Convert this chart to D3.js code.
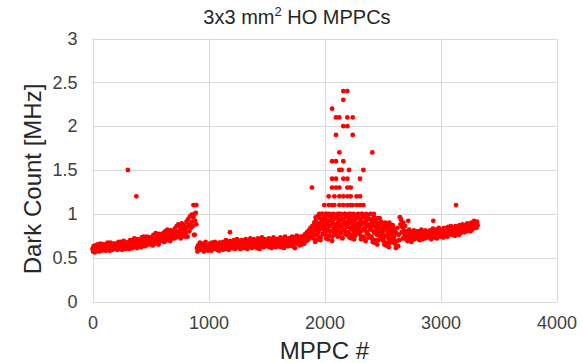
<!DOCTYPE html>
<html>
<head>
<meta charset="utf-8">
<script src="https://cdn.jsdelivr.net/npm/d3@7"></script>
<style>
  html, body { margin: 0; padding: 0; background: #fff; }
  svg { display: block; font-family: "Liberation Sans", Arial, sans-serif; }
</style>
</head>
<body>
<svg id="chart" width="583" height="363"></svg>
<script>
// ---- Data ----
// Main series: dark count [MHz] for MPPC # firstId, firstId+idStep, ...
const firstId = 0;
const idStep = 5;
const darkCount = [
  // 0-95
  0.60,0.57,0.63,0.61,0.56,0.64,0.60,0.62,0.58,0.65,0.61,0.57,0.63,0.60,0.66,0.62,0.58,0.61,0.65,0.60,
  // 100-195
  0.62,0.59,0.65,0.58,0.63,0.61,0.67,0.60,0.64,0.62,0.58,0.67,0.61,0.63,0.59,0.66,0.62,0.64,0.60,0.66,
  // 200-295
  0.63,0.60,0.66,0.59,0.64,0.68,0.61,0.65,0.60,0.68,0.63,0.59,0.66,0.64,0.69,0.61,0.65,0.60,0.67,0.64,
  // 300-395
  0.64,0.61,0.68,0.65,0.60,0.70,0.63,0.66,0.69,0.61,0.67,0.64,0.72,0.65,0.62,0.69,0.66,0.61,0.71,0.67,
  // 400-495
  0.66,0.63,0.70,0.67,0.62,0.73,0.65,0.69,0.74,0.64,0.68,0.63,0.72,0.67,0.74,0.65,0.70,0.68,0.73,0.66,
  // 500-595
  0.68,0.65,0.73,0.70,0.64,0.76,0.69,0.72,0.66,0.78,0.70,0.67,0.75,0.71,0.65,0.77,0.72,0.69,0.76,0.71,
  // 600-695
  0.72,0.69,0.78,0.74,0.68,0.80,0.73,0.76,0.70,0.82,0.75,0.71,0.79,0.74,0.69,0.81,0.76,0.72,0.80,0.77,
  // 700-795
  0.76,0.72,0.83,0.78,0.73,0.86,0.79,0.74,0.88,0.80,0.76,0.85,0.72,0.81,0.89,0.78,0.84,0.75,0.87,0.80,
  // 800-895
  0.82,0.78,0.91,0.85,0.74,0.94,0.87,0.80,0.97,0.89,0.84,0.99,0.91,0.86,0.96,0.76,1.00,0.92,1.01,0.88,
  // 900-995
  0.61,0.57,0.64,0.60,0.62,0.67,0.59,0.63,0.61,0.66,0.60,0.62,0.57,0.64,0.61,0.68,0.60,0.63,0.62,0.58,
  // 1000-1095
  0.62,0.59,0.66,0.61,0.63,0.58,0.67,0.62,0.64,0.60,0.63,0.68,0.61,0.62,0.66,0.59,0.64,0.62,0.58,0.67,
  // 1100-1195
  0.63,0.60,0.67,0.62,0.64,0.59,0.68,0.63,0.65,0.60,0.70,0.64,0.61,0.66,0.63,0.59,0.65,0.69,0.62,0.64,
  // 1200-1295
  0.64,0.61,0.68,0.63,0.70,0.65,0.60,0.66,0.64,0.71,0.62,0.65,0.69,0.63,0.66,0.60,0.64,0.70,0.65,0.62,
  // 1300-1395
  0.65,0.61,0.69,0.64,0.71,0.63,0.66,0.60,0.70,0.65,0.67,0.62,0.72,0.64,0.66,0.61,0.68,0.65,0.71,0.64,
  // 1400-1495
  0.65,0.62,0.70,0.66,0.61,0.72,0.64,0.67,0.60,0.71,0.66,0.63,0.73,0.65,0.68,0.62,0.67,0.71,0.64,0.66,
  // 1500-1595
  0.66,0.63,0.70,0.65,0.72,0.62,0.67,0.71,0.65,0.61,0.68,0.66,0.73,0.64,0.70,0.67,0.62,0.71,0.66,0.68,
  // 1600-1695
  0.67,0.63,0.71,0.66,0.73,0.62,0.68,0.65,0.72,0.69,0.61,0.67,0.74,0.65,0.71,0.66,0.68,0.63,0.72,0.67,
  // 1700-1795
  0.68,0.64,0.72,0.67,0.74,0.63,0.69,0.66,0.73,0.61,0.71,0.68,0.75,0.66,0.72,0.67,0.69,0.64,0.74,0.70,
  // 1800-1895
  0.69,0.65,0.73,0.68,0.75,0.66,0.71,0.77,0.69,0.74,0.79,0.70,0.76,0.81,0.72,0.78,0.84,0.74,0.80,0.86,
  // 1900-1995
  0.78,0.72,0.86,0.81,0.68,0.92,0.76,0.84,0.97,0.80,0.74,0.89,0.95,0.70,0.83,1.00,0.87,0.77,0.93,0.82,
  // 2000-2095
  0.85,0.78,0.94,0.72,0.88,1.00,0.81,0.91,0.75,0.97,0.86,0.80,0.93,0.69,0.89,0.99,0.83,0.76,0.95,0.87,
  // 2100-2195
  0.88,0.80,0.96,0.74,0.91,1.00,0.84,0.93,0.78,0.98,0.86,0.72,0.94,0.82,0.90,1.00,0.77,0.87,0.97,0.85,
  // 2200-2295
  0.86,0.79,0.95,0.73,0.90,1.00,0.83,0.92,0.76,0.98,0.85,0.71,0.93,0.81,0.89,0.99,0.78,0.87,0.96,0.84,
  // 2300-2395
  0.85,0.77,0.93,0.71,0.88,1.00,0.81,0.90,0.74,0.96,0.83,0.69,0.92,0.79,0.87,0.98,0.76,0.86,0.94,0.82,
  // 2400-2495
  0.82,0.74,0.91,0.68,0.86,0.97,0.78,0.88,0.70,0.93,0.80,0.65,0.89,0.76,0.84,0.95,0.72,0.83,0.90,0.79,
  // 2500-2595
  0.78,0.70,0.86,0.65,0.82,0.90,0.74,0.84,0.67,0.88,0.76,0.62,0.83,0.71,0.80,0.87,0.68,0.78,0.85,0.73,
  // 2600-2695
  0.74,0.66,0.82,0.61,0.78,0.69,0.84,0.63,0.76,0.70,0.96,0.88,0.93,0.79,0.85,0.72,0.90,0.81,0.76,0.86,
  // 2700-2795
  0.76,0.71,0.80,0.69,0.78,0.74,0.82,0.70,0.77,0.75,0.68,0.79,0.73,0.76,0.81,0.71,0.78,0.74,0.80,0.75,
  // 2800-2895
  0.76,0.72,0.80,0.75,0.70,0.78,0.74,0.82,0.76,0.71,0.79,0.75,0.77,0.72,0.81,0.76,0.73,0.79,0.77,0.75,
  // 2900-2995
  0.77,0.73,0.81,0.76,0.71,0.79,0.75,0.83,0.78,0.73,0.80,0.76,0.82,0.77,0.72,0.81,0.78,0.84,0.75,0.79,
  // 3000-3095
  0.78,0.74,0.82,0.77,0.80,0.73,0.84,0.79,0.75,0.83,0.78,0.81,0.74,0.85,0.79,0.76,0.82,0.80,0.86,0.78,
  // 3100-3195
  0.80,0.76,0.84,0.79,0.82,0.75,0.86,0.81,0.77,0.85,0.80,0.83,0.76,0.87,0.82,0.78,0.84,0.81,0.88,0.80,
  // 3200-3295
  0.83,0.79,0.87,0.82,0.85,0.80,0.89,0.84,0.81,0.88,0.84,0.86,0.80,0.90,0.85,0.82,0.88,0.86,0.92,0.84,
  // 3300-3320
  0.86,0.89,0.84,0.91,0.87
];

// Extra readings in the dense 1900-2610 cloud (MPPC # and dark count [MHz])
const cloudIds = [
  1903,1911,1917,1924,1931,1938,1946,1952,1959,1966,1973,1981,1988,1994,
  2002,2009,2016,2023,2031,2038,2044,2052,2059,2067,2073,2081,2088,2094,
  2102,2109,2116,2123,2131,2137,2145,2152,2159,2166,2173,2181,2188,2194,
  2202,2208,2216,2223,2231,2237,2244,2252,2259,2266,2273,2281,2288,2294,
  2302,2309,2316,2323,2331,2337,2345,2352,2359,2366,2373,2381,2388,2394,
  2402,2409,2416,2423,2431,2437,2445,2452,2459,2466,2473,2481,2488,2494,
  2502,2509,2516,2523,2531,2538,2545,2552,2559,2566,2573,2581,2588,2594,
  2602,2609
];
const cloudValues = [
  0.74,0.90,0.82,0.96,0.70,0.87,0.79,0.99,0.84,0.73,0.93,0.88,0.77,0.95,
  0.90,0.76,0.98,0.83,0.71,0.92,0.86,0.80,0.97,0.74,0.89,0.94,0.78,0.85,
  0.82,0.96,0.75,0.91,0.87,0.79,0.99,0.73,0.88,0.94,0.81,0.90,0.76,0.97,
  0.91,0.78,0.97,0.84,0.72,0.93,0.88,0.80,0.98,0.75,0.86,0.95,0.82,0.89,
  0.80,0.94,0.74,0.89,0.97,0.83,0.71,0.91,0.86,0.78,0.96,0.73,0.88,0.84,
  0.87,0.72,0.93,0.80,0.67,0.90,0.84,0.76,0.95,0.70,0.86,0.79,0.91,0.74,
  0.81,0.69,0.88,0.75,0.64,0.85,0.79,0.72,0.90,0.67,0.83,0.76,0.87,0.70,
  0.80,0.68
];

// Individual readings outside the main band (MPPC # and dark count [MHz])
const extraIds = [
  305, 378, 870, 882, 895, 800, 881, 1185, 1892,
  2162, 2197, 2162, 2065,
  2099, 2128, 2197, 2243,
  2162, 2197, 2099, 2243,
  2128, 2412,
  2065, 2099, 2162,
  2128, 2148, 2211, 2335,
  2065, 2099, 2162, 2197, 2306,
  2065, 2099, 2128, 2197, 2226,
  2036, 2085, 2128, 2162, 2197, 2226, 2277, 2306,
  1998, 2036, 2065, 2085, 2128, 2162, 2197, 2226, 2243, 2277, 2306, 2335,
  1955, 1985, 2010, 2045, 2075, 2110, 2140, 2175, 2210, 2250, 2290, 2320, 2360, 2395, 2425,
  2651, 2722, 2938, 3134
];
const extraValues = [
  1.50, 1.20, 1.10, 1.10, 1.10, 0.74, 0.76, 0.79, 1.30,
  2.40, 2.40, 2.30, 2.20,
  2.10, 2.10, 2.10, 2.10,
  2.00, 2.00, 1.90, 1.90,
  1.70, 1.70,
  1.60, 1.60, 1.60,
  1.50, 1.50, 1.50, 1.50,
  1.40, 1.40, 1.40, 1.40, 1.40,
  1.30, 1.30, 1.30, 1.30, 1.30,
  1.20, 1.20, 1.20, 1.20, 1.20, 1.20, 1.20, 1.20,
  1.10, 1.10, 1.10, 1.10, 1.10, 1.10, 1.10, 1.10, 1.10, 1.10, 1.10, 1.10,
  1.00, 1.00, 1.00, 1.00, 1.00, 1.00, 1.00, 1.00, 1.00, 1.00, 1.00, 1.00, 1.00, 1.00, 1.00,
  0.96, 0.92, 0.92, 1.10
];

const xTicks = [0, 1000, 2000, 3000, 4000];
const yTicks = [0, 0.5, 1, 1.5, 2, 2.5, 3];
const xTickLabels = ["0", "1000", "2000", "3000", "4000"];
const yTickLabels = ["0", "0.5", "1", "1.5", "2", "2.5", "3"];

// ---- Build point list ----
const points = darkCount.map((v, i) => ({ id: firstId + i * idStep, v }))
  .concat(cloudIds.map((id, i) => ({ id, v: cloudValues[i] })))
  .concat(extraIds.map((id, i) => ({ id, v: extraValues[i] })));

// ---- Chart ----
const svg = d3.select("#chart");
const W = 583, H = 363;
const margin = { left: 92.5, right: W - 556.5, top: 38.5, bottom: H - 301.5 };

const x = d3.scaleLinear().domain([0, 4000]).range([margin.left, W - margin.right]);
const y = d3.scaleLinear().domain([0, 3]).range([H - margin.bottom, margin.top]);

// gridlines
const grid = svg.append("g");
grid.selectAll("line.h").data(yTicks).join("line")
  .attr("x1", x(0)).attr("x2", x(4000))
  .attr("y1", d => Math.round(y(d)) + 0.5).attr("y2", d => Math.round(y(d)) + 0.5)
  .attr("stroke", "#d9d9d9").attr("stroke-width", 1);
grid.selectAll("line.v").data(xTicks).join("line")
  .attr("y1", y(0)).attr("y2", y(3))
  .attr("x1", d => Math.round(x(d)) + 0.5).attr("x2", d => Math.round(x(d)) + 0.5)
  .attr("stroke", "#d9d9d9").attr("stroke-width", 1);

// axes (labels only, using d3 axis generators)
const xAxis = d3.axisBottom(x).tickValues(xTicks).tickFormat((d, i) => xTickLabels[i]).tickSize(0).tickPadding(15);
const yAxis = d3.axisLeft(y).tickValues(yTicks).tickFormat((d, i) => yTickLabels[i]).tickSize(0).tickPadding(15);

const gx = svg.append("g").attr("transform", `translate(0,${y(0)})`).call(xAxis);
const gy = svg.append("g").attr("transform", `translate(${x(0)},0)`).call(yAxis);
[gx, gy].forEach(g => {
  g.select(".domain").remove();
  g.selectAll("text").attr("font-size", 18).attr("fill", "#404040")
    .attr("font-family", "'Liberation Sans', Arial, sans-serif");
});

// points
svg.append("g").selectAll("circle").data(points).join("circle")
  .attr("cx", d => x(d.id)).attr("cy", d => y(d.v)).attr("r", 2.4)
  .attr("fill", "#ff0000");

// title
const title = svg.append("text").attr("x", 297).attr("y", 24)
  .attr("text-anchor", "middle").attr("font-size", 20).attr("fill", "#262626");
title.append("tspan").text("3x3 mm");
title.append("tspan").attr("font-size", 13).attr("dy", -8).text("2");
title.append("tspan").attr("dy", 8).text(" HO MPPCs");

// axis titles
svg.append("text").attr("x", x(2000)).attr("y", 359)
  .attr("text-anchor", "middle").attr("font-size", 24).attr("fill", "#262626")
  .text("MPPC #");
svg.append("text").attr("transform", `translate(41,179) rotate(-90)`)
  .attr("text-anchor", "middle").attr("font-size", 24).attr("fill", "#262626")
  .text("Dark Count [MHz]");
</script>
</body>
</html>
